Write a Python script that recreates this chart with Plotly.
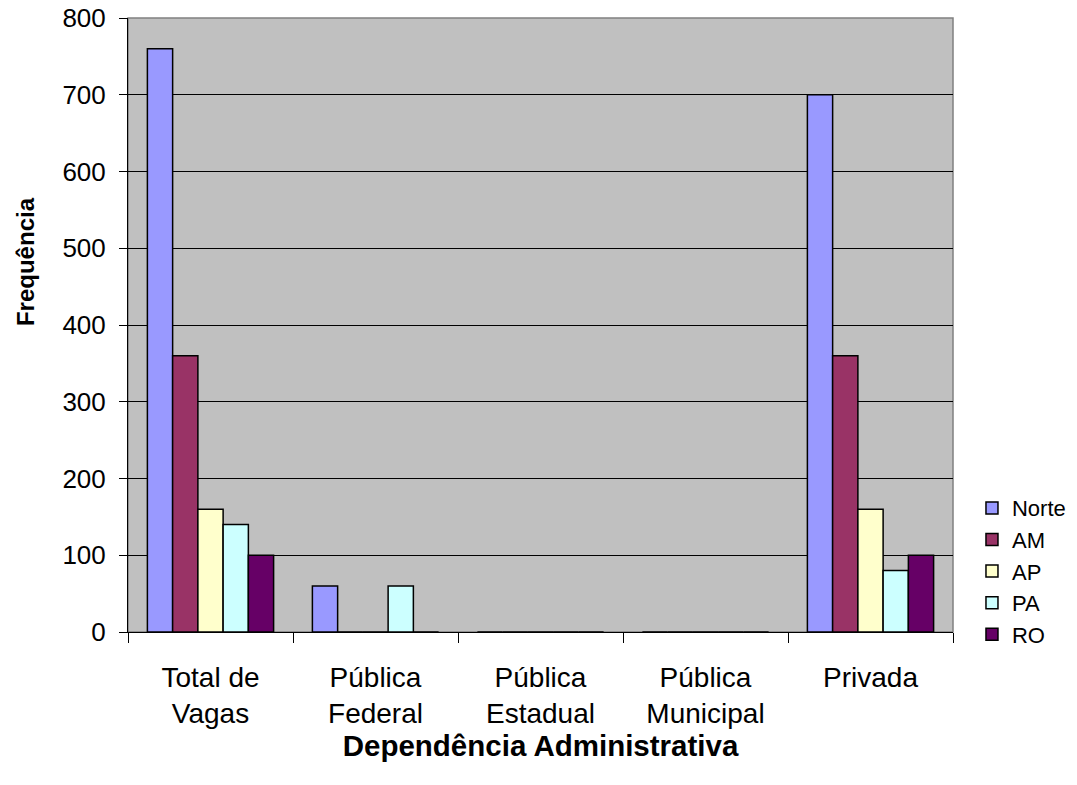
import plotly.graph_objects as go

categories = ["Total de<br>Vagas", "Pública<br>Federal", "Pública<br>Estadual", "Pública<br>Municipal", "Privada"]
series_names = ["Norte", "AM", "AP", "PA", "RO"]
norte = [760, 60, 0, 0, 700]
am = [360, 0, 0, 0, 360]
ap = [160, 0, 0, 0, 160]
pa = [140, 60, 0, 0, 80]
ro = [100, 0, 0, 0, 100]
colors = ["#9999FF", "#993366", "#FFFFCC", "#CCFFFF", "#660066"]
y_ticks = [0, 100, 200, 300, 400, 500, 600, 700, 800]
x_title = "Dependência Administrativa"
y_title = "Frequência"

fig = go.Figure()
for name, vals, col in zip(series_names, [norte, am, ap, pa, ro], colors):
    fig.add_trace(go.Bar(
        x=categories, y=vals, name=name,
        marker=dict(color=col, line=dict(color="black", width=1.5)),
    ))

fig.update_layout(
    width=1077, height=785,
    barmode="group", bargap=0.235, bargroupgap=0,
    paper_bgcolor="white", plot_bgcolor="#C0C0C0",
    margin=dict(l=128, r=124, t=18, b=153, autoexpand=False),
    font=dict(family="Arial, Liberation Sans, sans-serif", size=26, color="black"),
    showlegend=True,
    legend=dict(x=1.023, y=0.236, xanchor="left", yanchor="top",
                font=dict(size=22), bgcolor="rgba(0,0,0,0)",
                tracegroupgap=0, itemwidth=30),
    xaxis=dict(
        title=dict(text="<b>" + x_title + "</b>", font=dict(size=29.5), standoff=4),
        tickson="boundaries", ticks="outside", ticklen=10, tickcolor="black",
        showline=True, linecolor="black", linewidth=1, showgrid=False,
        tickfont=dict(size=28), automargin=False, ticklabelstandoff=20,
    ),
    yaxis=dict(
        range=[0, 800], tickvals=y_ticks, ticks="outside", ticklen=8, tickcolor="black",
        showline=True, linecolor="black", linewidth=1,
        showgrid=True, gridcolor="black", gridwidth=1, zeroline=False,
        tickfont=dict(size=26), automargin=False, ticklabelstandoff=8,
        ticklabeloverflow="allow",
    ),
    shapes=[dict(type="rect", xref="paper", yref="paper", x0=0, y0=0, x1=1, y1=1,
                 line=dict(color="#808080", width=1.5), layer="below")],
    annotations=[dict(text="<b>" + y_title + "</b>", textangle=-90,
                      xref="paper", yref="paper", x=-0.1248, y=0.6026,
                      xanchor="center", yanchor="middle", showarrow=False,
                      font=dict(size=24))],
)

fig.write_html("out.html", config={"displayModeBar": False},
               post_script="document.body.style.margin='0';")
